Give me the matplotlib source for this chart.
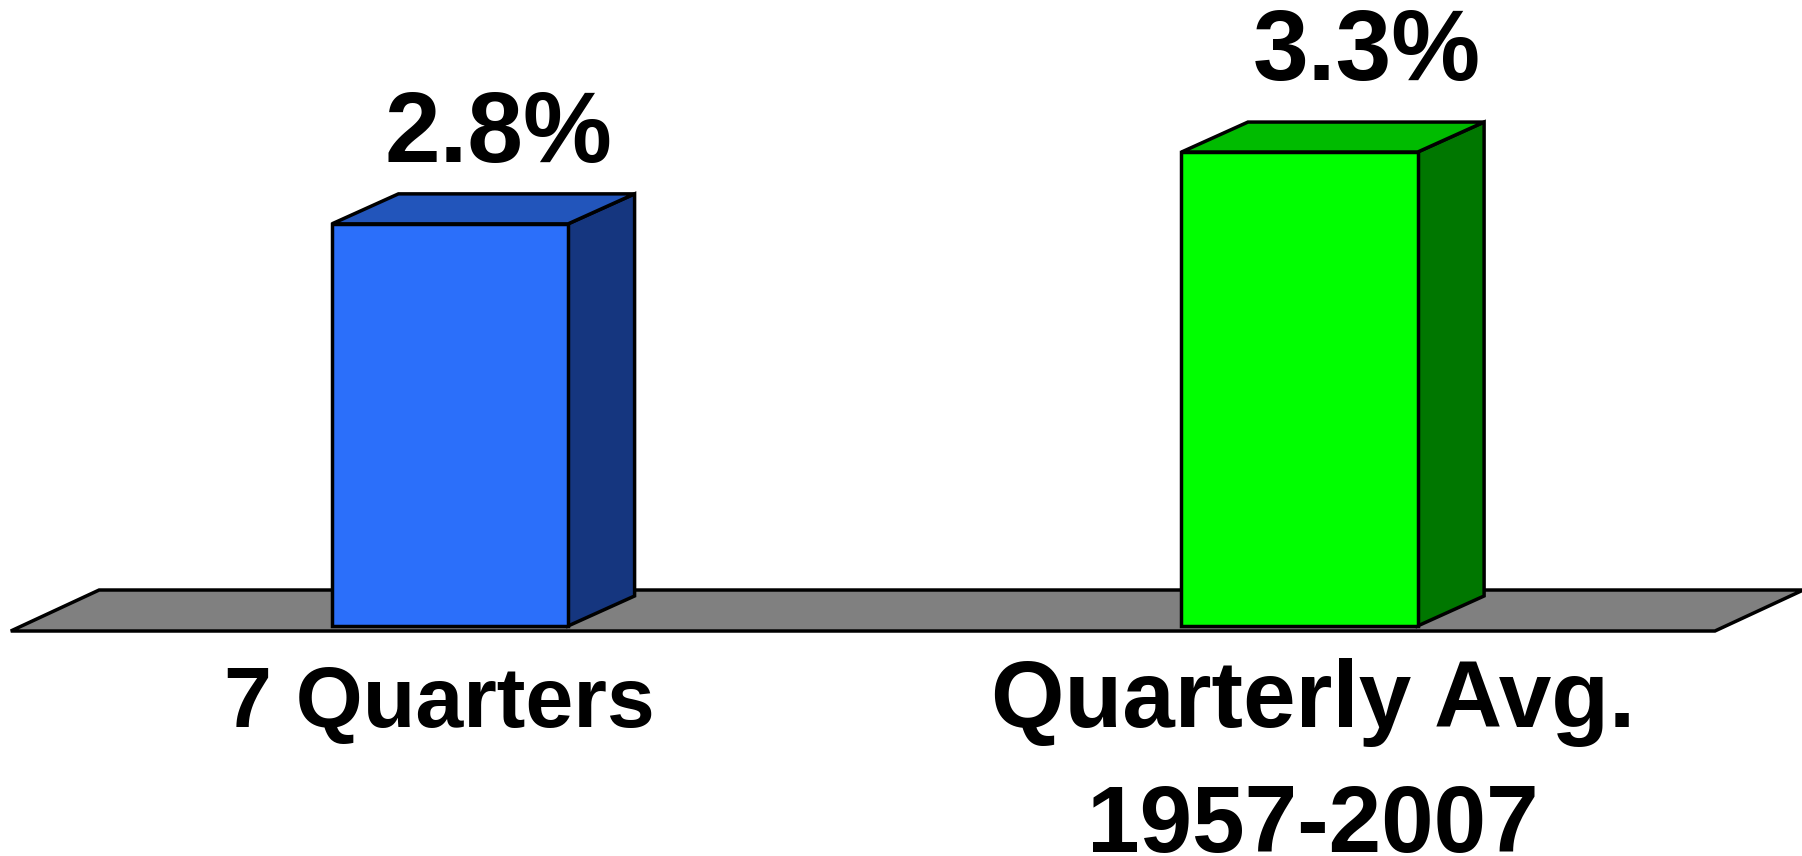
import matplotlib
matplotlib.use("Agg")
import matplotlib.pyplot as plt
from matplotlib.patches import Polygon

# ---- data ----
categories = ["7 Quarters", "Quarterly Avg.\n1957-2007"]
values = [2.8, 3.3]
value_labels = ["2.8%", "3.3%"]
front_colors = ["#2B6FFA", "#00FF00"]
top_colors = ["#2255BB", "#00BB00"]
side_colors = ["#15367F", "#007700"]
floor_color = "#808080"

# ---- layout / style ----
W, H, DPI = 1802, 856, 100
bar_w = 0.278
ddx, ddy = 0.0783, 0.209          # bar depth offsets (data units)
fdx, fdy = 0.104, 0.2855          # floor depth offsets
floor_front_y = -0.035
floor_x0, floor_x1 = -0.517, 1.489
lw = 2.5
value_dx = [0.0565, 0.0795]
value_dy = [0.431, 0.502]
label_dx = [-0.013, 0.016]
label_y0 = -0.703
label_line = 0.870
label_sizes = [62, 68]
value_size = 72
font = "Liberation Sans"

fig = plt.figure(figsize=(W / DPI, H / DPI), dpi=DPI)
ax = fig.add_axes([0, 0, 1, 1])
ax.set_xlim(-0.5297, 1.5915)
ax.set_ylim(-1.6017, 4.359)
ax.axis("off")

# floor
floor = Polygon([(floor_x0, floor_front_y), (floor_x1, floor_front_y),
                 (floor_x1 + fdx, floor_front_y + fdy), (floor_x0 + fdx, floor_front_y + fdy)],
                closed=True, facecolor=floor_color, edgecolor="black", lw=lw,
                joinstyle="miter", zorder=1)
ax.add_patch(floor)

for i, v in enumerate(values):
    x0 = i - bar_w / 2
    x1 = i + bar_w / 2
    front = Polygon([(x0, 0), (x1, 0), (x1, v), (x0, v)], closed=True,
                    facecolor=front_colors[i], edgecolor="black", lw=lw,
                    joinstyle="miter", zorder=3)
    top = Polygon([(x0, v), (x1, v), (x1 + ddx, v + ddy), (x0 + ddx, v + ddy)], closed=True,
                  facecolor=top_colors[i], edgecolor="black", lw=lw,
                  joinstyle="miter", zorder=2)
    side = Polygon([(x1, 0), (x1 + ddx, ddy), (x1 + ddx, v + ddy), (x1, v)], closed=True,
                   facecolor=side_colors[i], edgecolor="black", lw=lw,
                   joinstyle="miter", zorder=2)
    for p in (side, top, front):
        ax.add_patch(p)
    ax.text(i + value_dx[i], v + value_dy[i], value_labels[i], ha="center", va="baseline",
            fontsize=value_size, fontweight="bold", family=font, zorder=5)
    for k, line in enumerate(categories[i].split("\n")):
        ax.text(i + label_dx[i], label_y0 - k * label_line, line, ha="center", va="baseline",
                fontsize=label_sizes[i], fontweight="bold", family=font, zorder=5)

fig.savefig("out.png", dpi=DPI)
